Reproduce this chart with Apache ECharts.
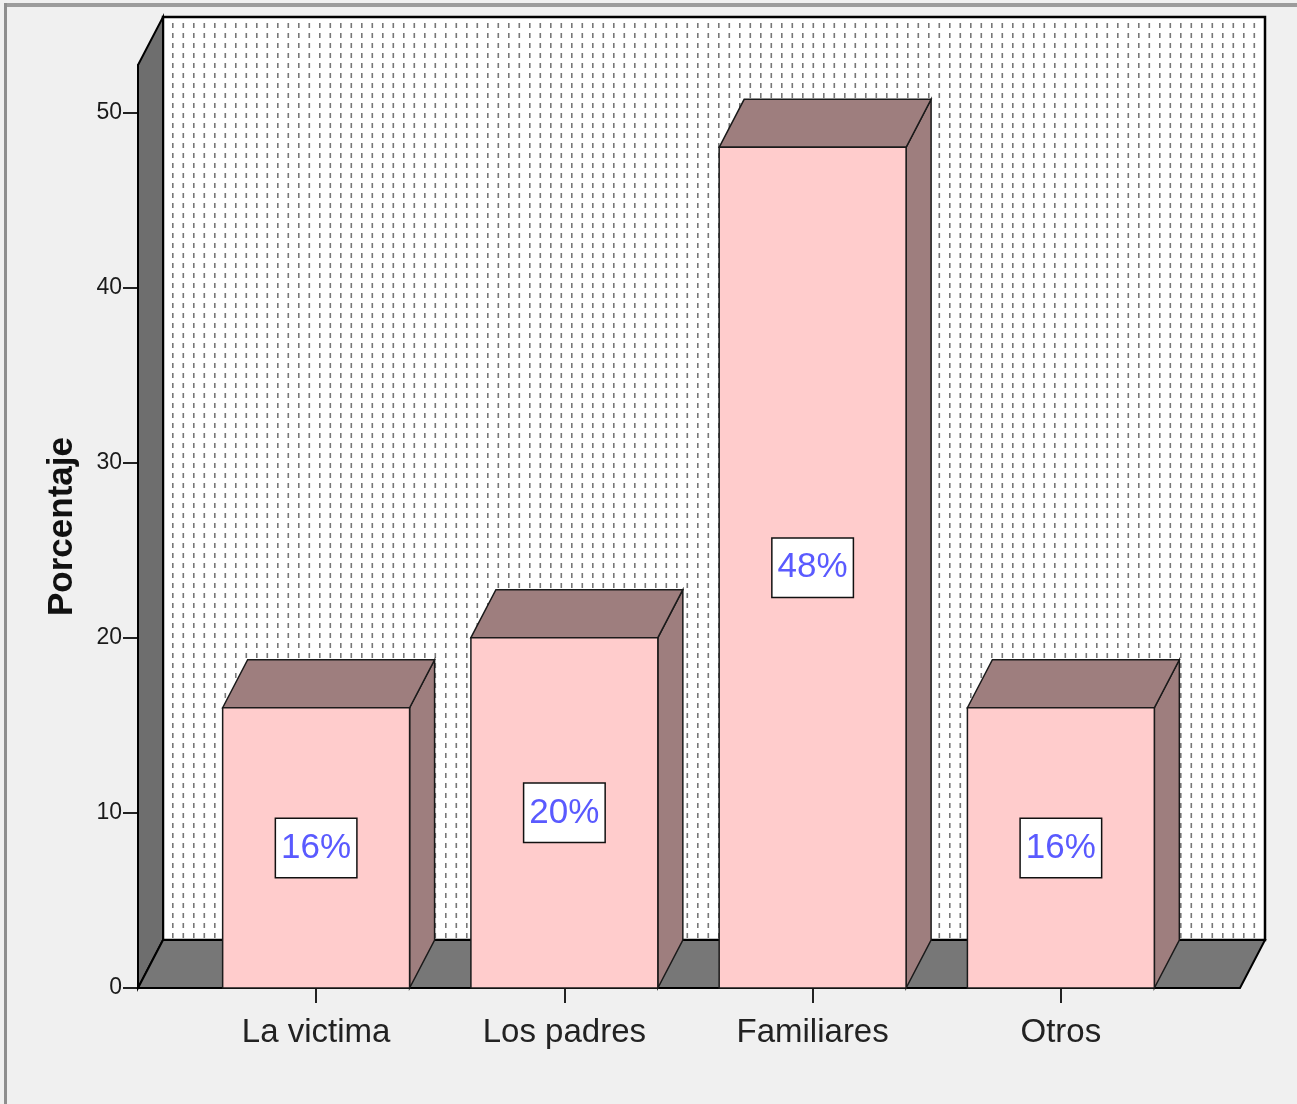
<!DOCTYPE html>
<html>
<head>
<meta charset="utf-8">
<script src="https://cdn.jsdelivr.net/npm/echarts@6/dist/echarts.min.js"></script>
<style>
  html, body { margin: 0; padding: 0; background: #f0f0f0; }
  #chart { width: 1297px; height: 1104px; }
</style>
</head>
<body>
<div id="chart"></div>
<script>
// ---- data ----
const categories = ['La victima', 'Los padres', 'Familiares', 'Otros'];
const percentages = [16, 20, 48, 16];
const yTickValues = [0, 10, 20, 30, 40, 50];
const yMax = 52.7;

// ---- style constants ----
const DX = 25, DY = -48;           // depth offset of the 3D effect
const WALL_EXT_LEFT = 54, WALL_EXT_RIGHT = 55;
const BAR_RATIO = 0.753;
const SANS = "'Liberation Sans', Arial, sans-serif";

// dotted pattern for the back wall
const pat = document.createElement('canvas');
pat.width = 21; pat.height = 10;
(function () {
  const c = pat.getContext('2d');
  c.fillStyle = '#ffffff';
  c.fillRect(0, 0, 21, 10);
  c.fillStyle = '#777777';
  c.fillRect(4, 3, 1.6, 5);
  c.fillRect(14.5, 3, 1.6, 5);
})();

const chart = echarts.init(document.getElementById('chart'), null, { renderer: 'canvas' });

function renderFrame(params, api) {
  const cs = params.coordSys;
  const y0 = api.coord([0, 0])[1];
  const yTop = api.coord([0, yMax])[1];
  const xL = cs.x - WALL_EXT_LEFT;
  const xR = cs.x + cs.width + WALL_EXT_RIGHT;
  return {
    type: 'group',
    children: [
      {
        type: 'rect',
        shape: { x: xL + DX, y: yTop + DY, width: xR - xL, height: y0 - yTop },
        style: { fill: { image: pat, repeat: 'repeat' }, stroke: '#000', lineWidth: 2.5 }
      },
      {
        type: 'polygon',
        shape: { points: [[xL, y0], [xL, yTop], [xL + DX, yTop + DY], [xL + DX, y0 + DY]] },
        style: { fill: '#6e6e6e', stroke: '#000', lineWidth: 2 }
      },
      {
        type: 'polygon',
        shape: { points: [[xL, y0], [xL + DX, y0 + DY], [xR + DX, y0 + DY], [xR, y0]] },
        style: { fill: '#777777', stroke: '#000', lineWidth: 2 }
      }
    ]
  };
}

function renderBar(params, api) {
  const idx = api.value(0);
  const val = api.value(1);
  const top = api.coord([idx, val]);
  const base = api.coord([idx, 0]);
  const bw = api.size([1, 0])[0] * BAR_RATIO;
  const xl = top[0] - bw / 2, xr = top[0] + bw / 2;
  const yt = top[1], yb = base[1];
  const edge = { stroke: '#1a1a1a', lineWidth: 1.5 };
  return {
    type: 'group',
    children: [
      {
        type: 'polygon',
        shape: { points: [[xr, yt], [xr + DX, yt + DY], [xr + DX, yb + DY], [xr, yb]] },
        style: Object.assign({ fill: '#9e7e7e' }, edge)
      },
      {
        type: 'polygon',
        shape: { points: [[xl, yt], [xl + DX, yt + DY], [xr + DX, yt + DY], [xr, yt]] },
        style: Object.assign({ fill: '#9e7e7e' }, edge)
      },
      {
        type: 'rect',
        shape: { x: xl, y: yt, width: bw, height: yb - yt },
        style: Object.assign({ fill: '#ffcccc' }, edge)
      },
      {
        type: 'text',
        x: top[0],
        y: (yt + yb) / 2,
        style: {
          text: val + '%',
          fill: '#5a5aff',
          fontSize: 35,
          fontFamily: SANS,
          align: 'center',
          verticalAlign: 'middle',
          backgroundColor: '#ffffff',
          borderColor: '#111',
          borderWidth: 1.5,
          padding: [10, 5, 8, 5],
          lineHeight: 40
        }
      }
    ]
  };
}

chart.setOption({
  animation: false,
  backgroundColor: '#f0f0f0',
  grid: { left: 192, right: 112, top: 65, bottom: 116 },
  xAxis: {
    type: 'category',
    data: categories,
    boundaryGap: true,
    axisLine: { show: false },
    axisTick: { show: true, interval: 0, alignWithLabel: true, length: 15, lineStyle: { color: '#222', width: 2 } },
    axisLabel: { interval: 0, color: '#222', fontSize: 33, fontFamily: SANS, margin: 25, lineHeight: 40 },
    splitLine: { show: false }
  },
  yAxis: {
    type: 'value',
    min: 0,
    max: yMax,
    interval: 10,
    offset: WALL_EXT_LEFT,
    name: 'Porcentaje',
    nameLocation: 'middle',
    nameRotate: 90,
    nameGap: 58,
    nameTextStyle: { color: '#111', fontSize: 35, fontWeight: 'bold', fontFamily: SANS },
    axisLine: { show: true, lineStyle: { color: '#000', width: 2 } },
    axisTick: { show: true, length: 15, customValues: yTickValues, lineStyle: { color: '#222', width: 2 } },
    axisLabel: { color: '#1a1a1a', fontSize: 23, fontFamily: SANS, margin: 16, customValues: yTickValues },
    splitLine: { show: false }
  },
  graphic: [
    { type: 'rect', shape: { x: 4, y: 3, width: 1293, height: 4 }, style: { fill: '#9c9c9c' }, silent: true },
    { type: 'rect', shape: { x: 4, y: 3, width: 3, height: 1101 }, style: { fill: '#8e8e8e' }, silent: true }
  ],
  series: [
    {
      type: 'custom',
      renderItem: renderFrame,
      data: [[0, 0]],
      clip: false,
      silent: true,
      z: 1
    },
    {
      type: 'custom',
      renderItem: renderBar,
      data: percentages.map((v, i) => [i, v]),
      encode: { x: 0, y: 1 },
      clip: false,
      silent: true,
      z: 2
    }
  ]
});
</script>
</body>
</html>
